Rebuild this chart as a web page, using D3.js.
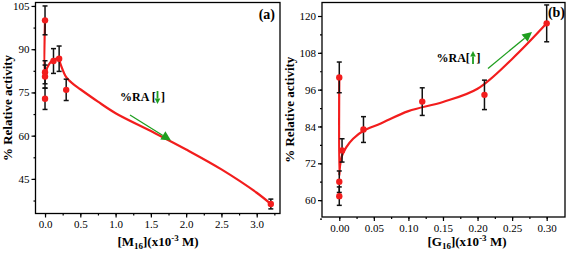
<!DOCTYPE html>
<html>
<head>
<meta charset="utf-8">
<script src="https://cdn.jsdelivr.net/npm/d3@7"></script>
<style>
  body { margin: 0; background: #fff; }
  svg text { font-family: 'Liberation Serif', 'Times New Roman', serif !important; }
</style>
</head>
<body>
<div id="chart"></div>
<script>
// Panel (a) - M16
const A_X = [0, 0, 0, 0, 0.12, 0.2, 0.3, 3.2];
const A_Y = [100, 82, 80.5, 72.8, 85.9, 86.7, 75.9, 36.3];
const A_ERR = [5, 4, 4, 3.7, 4.3, 4.4, 3.7, 1.7];
const A_FIT_X = [0, 0, 0.03, 0.08, 0.14, 0.19, 0.22, 0.3, 0.4, 0.5, 0.75, 1.0, 1.5, 2.0, 2.5, 3.0, 3.2];
const A_FIT_Y = [100, 80.8, 83.5, 85.6, 86.6, 86.8, 84.8, 80.3, 77.9, 76.1, 71.8, 67.8, 61.6, 55.2, 48.3, 40.2, 36.3];
const A_X_TICKS = [0, 0.5, 1.0, 1.5, 2.0, 2.5, 3.0];
const A_Y_TICKS = [45, 60, 75, 90, 105];

// Panel (b) - G16
const B_X = [0, 0, 0, 0.004, 0.035, 0.12, 0.21, 0.30];
const B_Y = [100, 66, 61.3, 76.2, 83, 92.1, 94.3, 117.6];
const B_ERR = [5, 3.5, 3, 3.8, 4.2, 4.5, 4.8, 6];
const B_FIT_X = [0, 0, 0.001, 0.004, 0.01, 0.02, 0.035, 0.06, 0.1, 0.15, 0.2, 0.25, 0.3];
const B_FIT_Y = [100, 68, 71, 74.5, 77.2, 80, 82.6, 85, 89, 92, 96.3, 106, 117.6];
const B_X_TICKS = [0, 0.05, 0.10, 0.15, 0.20, 0.25, 0.30];
const B_Y_TICKS = [60, 72, 84, 96, 108, 120];

const WIDTH = 567, HEIGHT = 255;
const RED = "#f21d1d", GREEN = "#1f9e1f";
const SERIF = "'Liberation Serif', 'Times New Roman', serif";

const svg = d3.select("#chart").append("svg")
    .attr("width", WIDTH)
    .attr("height", HEIGHT)
    .attr("font-family", SERIF);

// Builds one panel
function build_panel(cfg) {
    const X_SCALE = d3.scaleLinear().domain(cfg.xDom).range([cfg.left, cfg.right]);
    const Y_SCALE = d3.scaleLinear().domain(cfg.yDom).range([cfg.bottom, cfg.top]);
    const g = svg.append("g");

    // minor ticks
    const xAxis = d3.axisBottom(X_SCALE).tickValues(cfg.xMinor).tickSize(2).tickFormat("");
    g.append("g").attr("transform", "translate(0," + cfg.bottom + ")").call(xAxis);
    const yAxis = d3.axisLeft(Y_SCALE).tickValues(cfg.yMinor).tickSize(2).tickFormat("");
    g.append("g").attr("transform", "translate(" + cfg.left + ",0)").call(yAxis);

    // major ticks
    g.append("g")
        .attr("transform", "translate(0," + cfg.bottom + ")")
        .call(d3.axisBottom(X_SCALE).tickValues(cfg.xTicks).tickSize(4).tickPadding(3).tickFormat(d3.format(cfg.xFmt)))
        .attr("font-size", "11px");
    g.append("g")
        .attr("transform", "translate(" + cfg.left + ",0)")
        .call(d3.axisLeft(Y_SCALE).tickValues(cfg.yTicks).tickSize(4).tickPadding(2).tickFormat(d3.format("d")))
        .attr("font-size", "11px");

    g.selectAll(".domain").remove();
    g.selectAll("g").attr("font-family", SERIF);
    g.selectAll(".tick line").attr("stroke", "#000").attr("stroke-width", 1.2);
    g.selectAll(".tick text").attr("fill", "#000");

    // frame
    g.append("rect")
        .attr("x", cfg.left).attr("y", cfg.top)
        .attr("width", cfg.right - cfg.left).attr("height", cfg.bottom - cfg.top)
        .attr("fill", "none").attr("stroke", "#000").attr("stroke-width", 1.3);

    // fitted curve
    const fit = cfg.fitX.map((x, i) => [x, cfg.fitY[i]]);
    g.append("path")
        .datum(fit)
        .attr("d", d3.line()
            .x(d => X_SCALE(d[0]))
            .y(d => Y_SCALE(d[1]))
            .curve(d3.curveCatmullRom.alpha(0.5)))
        .attr("fill", "none").attr("stroke", RED).attr("stroke-width", 2.2);

    const pts = cfg.x.map((x, i) => ({x: x, y: cfg.y[i], e: cfg.err[i]}));

    // error bars
    pts.forEach(d => {
        const cx = X_SCALE(d.x), y1 = Y_SCALE(d.y + d.e), y2 = Y_SCALE(d.y - d.e);
        g.append("line").attr("x1", cx).attr("x2", cx).attr("y1", y1).attr("y2", y2)
            .attr("stroke", "#111").attr("stroke-width", 1.5);
        [y1, y2].forEach(yy => {
            g.append("line").attr("x1", cx - 2.5).attr("x2", cx + 2.5).attr("y1", yy).attr("y2", yy)
                .attr("stroke", "#111").attr("stroke-width", 1.5);
        });
    });

    // points
    g.selectAll("circle.pt")
        .data(pts)
        .enter()
        .append("circle")
        .attr("class", "pt")
        .attr("cx", d => X_SCALE(d.x))
        .attr("cy", d => Y_SCALE(d.y))
        .attr("r", 3.2)
        .attr("fill", RED);

    // panel label
    g.append("text")
        .attr("x", cfg.labelX).attr("y", cfg.labelY)
        .attr("text-anchor", "end")
        .style("font-size", "14px").style("font-weight", 700)
        .text(cfg.label);

    // axis titles
    const xt = g.append("text")
        .attr("x", cfg.xTitleX).attr("y", 246)
        .attr("text-anchor", "middle")
        .style("font-size", "13px").style("font-weight", 700);
    xt.append("tspan").text("[" + cfg.sym);
    xt.append("tspan").attr("dy", 3).style("font-size", "9px").text("16");
    xt.append("tspan").attr("dy", -3).text("](x10");
    xt.append("tspan").attr("dy", -5).style("font-size", "9px").text("-3");
    xt.append("tspan").attr("dy", 5).text(" M)");

    g.append("text")
        .attr("transform", "translate(" + cfg.yTitleX + "," + ((cfg.top + cfg.bottom) / 2) + ") rotate(-90)")
        .attr("text-anchor", "middle")
        .style("font-size", "13px").style("font-weight", 700)
        .text("% Relative activity");

    // %RA annotation
    const ra = cfg.ra;
    g.append("text")
        .attr("x", ra.x).attr("y", ra.y)
        .style("font-size", "12px").style("font-weight", 700)
        .text(ra.text);
    g.append("text")
        .attr("x", ra.closeX).attr("y", ra.y)
        .style("font-size", "12px").style("font-weight", 700)
        .text("]");
    draw_arrow(g, ra.arrowX, ra.y0, ra.arrowX, ra.y1, 3.5, 1.8);

    // trend arrow
    draw_arrow(g, cfg.trend[0], cfg.trend[1], cfg.trend[2], cfg.trend[3], 6, 1.3);
}

// Draws a green arrow with a filled head
function draw_arrow(g, x1, y1, x2, y2, head, w) {
    const ang = Math.atan2(y2 - y1, x2 - x1);
    const bx = x2 - head * 1.6 * Math.cos(ang), by = y2 - head * 1.6 * Math.sin(ang);
    g.append("line").attr("x1", x1).attr("y1", y1).attr("x2", bx).attr("y2", by)
        .attr("stroke", GREEN).attr("stroke-width", w);
    const px = -Math.sin(ang) * head * 0.8, py = Math.cos(ang) * head * 0.8;
    g.append("path")
        .attr("d", "M" + x2 + "," + y2 + "L" + (bx + px) + "," + (by + py) + "L" + (bx - px) + "," + (by - py) + "Z")
        .attr("fill", GREEN);
}

build_panel({
    left: 35.5, right: 280, top: 2.5, bottom: 213.5,
    xDom: [-0.135, 3.33], yDom: [33.0, 106.2],
    xTicks: A_X_TICKS, yTicks: A_Y_TICKS, xFmt: ".1f",
    xMinor: d3.range(0, 3.3, 0.25), yMinor: d3.range(37.5, 106, 7.5),
    x: A_X, y: A_Y, err: A_ERR, fitX: A_FIT_X, fitY: A_FIT_Y,
    label: "(a)", labelX: 275, labelY: 19,
    sym: "M", xTitleX: 158, yTitleX: 12,
    ra: {text: "%RA [", x: 120, y: 100.5, closeX: 161, arrowX: 157.5, y0: 91, y1: 104},
    trend: [130, 115, 171, 140.5]
});

build_panel({
    left: 322, right: 565, top: 2.5, bottom: 217,
    xDom: [-0.025, 0.3265], yDom: [54.5, 124.4],
    xTicks: B_X_TICKS, yTicks: B_Y_TICKS, xFmt: ".2f",
    xMinor: d3.range(0, 0.32, 0.025), yMinor: d3.range(54, 124, 6),
    x: B_X, y: B_Y, err: B_ERR, fitX: B_FIT_X, fitY: B_FIT_Y,
    label: "(b)", labelX: 565, labelY: 17,
    sym: "G", xTitleX: 467, yTitleX: 294,
    ra: {text: "%RA[", x: 436.5, y: 62, closeX: 476.5, arrowX: 473, y0: 64, y1: 51},
    trend: [488, 68.5, 532, 32]
});
</script>
</body>
</html>
